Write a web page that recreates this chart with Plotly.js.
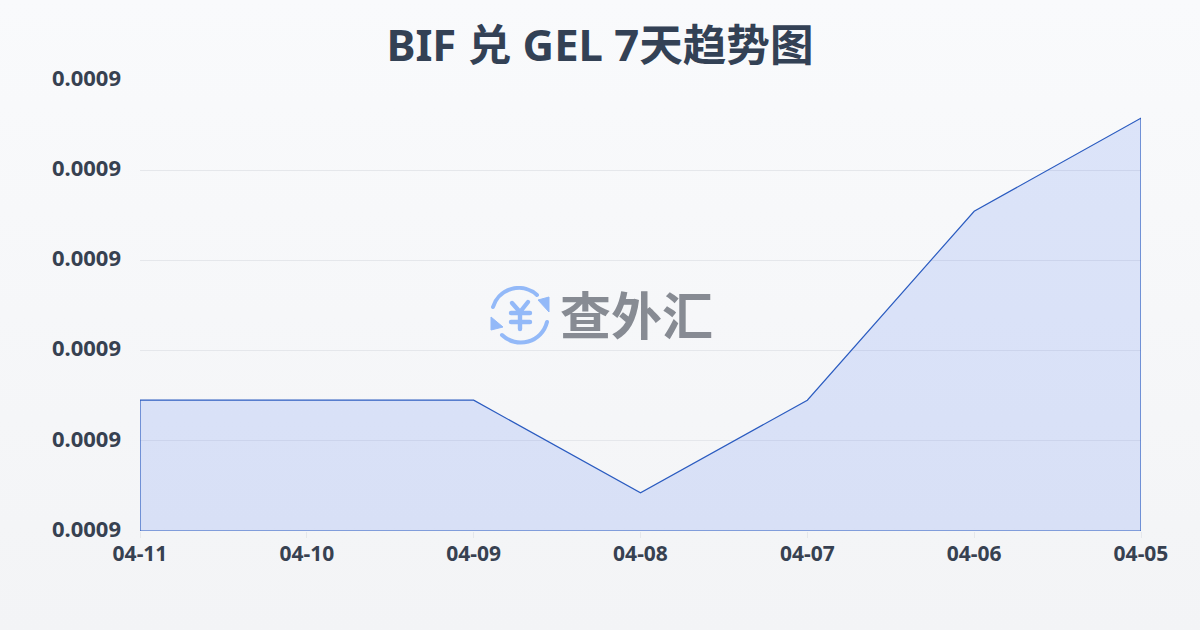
<!DOCTYPE html>
<html><head><meta charset="utf-8">
<script src="https://cdn.plot.ly/plotly-3.0.1.min.js"></script>
<style>
html,body{margin:0;padding:0;width:1200px;height:630px;overflow:hidden;background:linear-gradient(180deg,#f9fafc 0%,#f3f4f6 100%);}
#chart{width:1200px;height:630px;}
</style></head><body><div id="chart"></div>
<script>
const dates = ['04-11','04-10','04-09','04-08','04-07','04-06','04-05'];
const rates = [0.00089160,0.00089160,0.00089160,0.00088338,0.00089160,0.00090836,0.00091662];
const axisMin = 0.00088;
const axisStep = 0.000008;
const axisTicks = [0,1,2,3,4,5].map(i => axisMin + i*axisStep);
const axisMax = axisTicks[5] + 1e-10;
const titleText = 'BIF 兑 GEL 7天趋势图';
const brand = '查外汇';

const logo = "data:image/svg+xml;utf8," + encodeURIComponent(
`<svg xmlns='http://www.w3.org/2000/svg' viewBox='0 0 60 60'>
<g fill='none' stroke='#93b9f8' stroke-linecap='round' stroke-linejoin='round'>
<path d='M3 21 A27 27 0 0 1 47 9' stroke-width='4'/>
<path d='M57 36 A27 27 0 0 1 12 49' stroke-width='4'/>
<path d='M22 17 L30 26 L38 16 M30 26 V43 M21 27 H40 M21 36 H40' stroke-width='4.4'/>
</g>
<path d='M59 11 L59 26 L48 14 Z' fill='#93b9f8' stroke='#93b9f8' stroke-linejoin='round'/>
<path d='M1 31 L1 44 L13 41 Z' fill='#93b9f8' stroke='#93b9f8' stroke-linejoin='round'/>
</svg>`);

const polyX = dates.concat([dates[6], dates[0], dates[0]]);
const polyY = rates.concat([axisMin, axisMin, rates[0]]);

Plotly.newPlot('chart', [{
  type:'scatter', mode:'lines', x:polyX, y:polyY, fill:'toself',
  fillcolor:'rgba(60,110,240,0.15)',
  line:{color:'#2a5bc0', width:1.2, shape:'linear'},
  hoverinfo:'skip'
}], {
  width:1200, height:630,
  paper_bgcolor:'rgba(0,0,0,0)', plot_bgcolor:'rgba(0,0,0,0)',
  margin:{l:140,r:59,t:80,b:99},
  showlegend:false,
  title:{text:titleText, x:0.5, xanchor:'center', y:0.928, yanchor:'middle',
    font:{family:'"Noto Sans","Noto Sans CJK SC",sans-serif', size:43.6, color:'#334155', weight:700}},
  xaxis:{type:'category', categoryorder:'array', categoryarray:dates, range:[0,6],
    showgrid:false, zeroline:false, showline:false,
    ticks:'outside', ticklen:6, tickwidth:1, tickcolor:'#e5e7eb', ticklabelstandoff:-2,
    tickfont:{family:'"Noto Sans",sans-serif', size:21, color:'#374151', weight:700}},
  yaxis:{range:[axisMin,axisMax], tickmode:'array', tickvals:axisTicks, tickformat:'.4f',
    showgrid:true, gridcolor:'#e5e7eb', gridwidth:1, zeroline:false, showline:false,
    ticks:'', ticklabelstandoff:18, ticklabelshift:-2,
    tickfont:{family:'"Noto Sans",sans-serif', size:22, color:'#374151', weight:700}},
  images:[{source:logo, xref:'paper', yref:'paper', x:(490-140)/1001, y:(531-286)/451,
    sizex:60/1001, sizey:60/451, xanchor:'left', yanchor:'top', sizing:'stretch', layer:'above'}],
  annotations:[{text:brand, xref:'paper', yref:'paper', x:(636-140)/1001, y:(531-313)/451,
    xanchor:'center', yanchor:'middle', showarrow:false,
    font:{family:'"Noto Sans CJK SC",sans-serif', size:51, color:'#878b93', weight:700}}]
}, {displayModeBar:false, staticPlot:true});
</script></body></html>
